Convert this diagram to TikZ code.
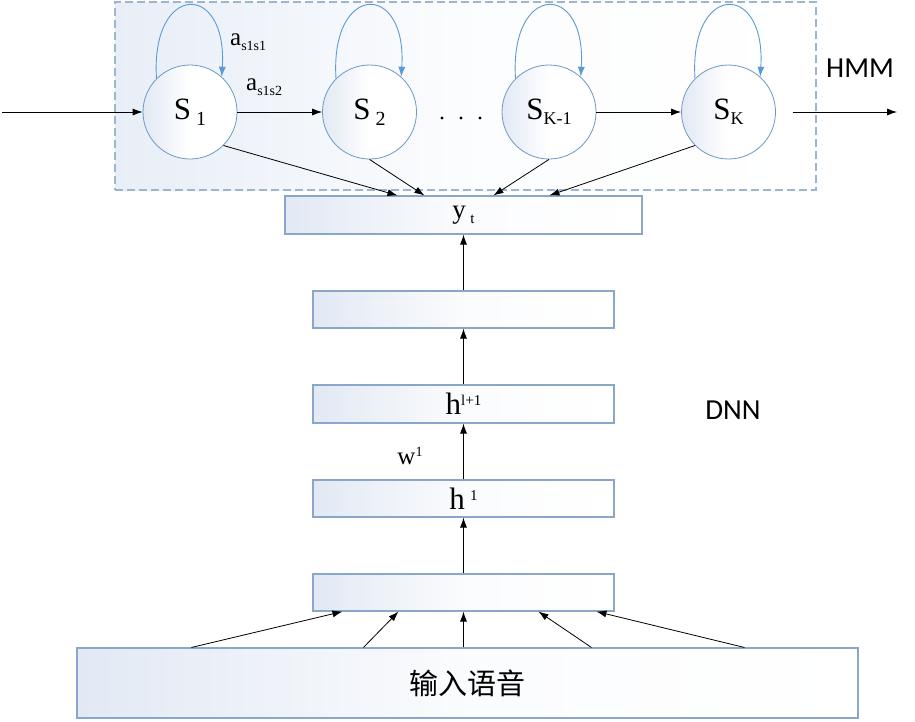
\documentclass[tikz,border=0pt]{standalone}
\usepackage{fontspec}
\setmainfont{Liberation Serif}
\newfontfamily\cjk{Noto Sans CJK SC}
\newfontfamily\calib{Carlito}
\usetikzlibrary{arrows.meta}
\definecolor{boxedge}{HTML}{8AA7CA}
\definecolor{boxfill}{HTML}{E2E9F4}
\definecolor{hmmfill}{HTML}{E8EEF7}
\definecolor{loopblue}{HTML}{5B9BD5}
\definecolor{dashedge}{HTML}{9DB5CF}
\definecolor{circedge}{HTML}{6E98C6}
\newcommand{\sz}[1]{\fontsize{#1}{#1}\selectfont}
\begin{document}
\begin{tikzpicture}[x=1pt,y=-1pt,
  layerbox/.style={draw=boxedge,line width=1.1pt,left color=boxfill,right color=white,middle color=white!85!boxfill,minimum width=301pt,minimum height=37pt,inner sep=0pt},
  statenode/.style={circle,draw=circedge,line width=0.8pt,left color=boxfill,right color=white,middle color=white,minimum size=94pt,inner sep=0pt},
  conn/.style={-{Latex[length=10pt,width=7pt]},line width=0.8pt,black},
  selfloop/.style={-{Latex[length=10pt,width=7pt]},line width=0.9pt,loopblue},
  lbl/.style={inner sep=0pt}]
\useasboundingbox (0,0) rectangle (915,721);
% HMM box
\node[draw=dashedge,line width=1.2pt,dash pattern=on 8pt off 4pt,left color=hmmfill,right color=white,middle color=white!85!hmmfill,minimum width=701pt,minimum height=188pt,inner sep=0pt] (hmm) at (465.5,96) {};
% states
\node[statenode] (s1) at (190,112) {\sz{31}S\,\raisebox{-6pt}{\sz{20}1}};
\node[statenode] (s2) at (369.5,112) {\sz{31}S\,\raisebox{-6pt}{\sz{20}2}};
\node[statenode] (sk1) at (549,112) {\sz{31}S\raisebox{-5pt}{\sz{18}K-1}};
\node[statenode] (sk) at (728.5,112) {\sz{31}S\raisebox{-5pt}{\sz{18}K}};
% dots
\fill (442,118) circle (1.7pt) (461,118) circle (1.7pt) (480,118) circle (1.7pt);
% self loops
\foreach \s in {s1,s2,sk1,sk}{
  \draw[selfloop] (\s.135) .. controls +(-6,-96) and +(6,-96) .. (\s.48);
}
% labels
\node[lbl,anchor=base west] (a11) at (230,45) {\sz{25}a\raisebox{-5pt}{\sz{14}s1s1}};
\node[lbl,anchor=base west] (a12) at (246,90) {\sz{25}a\raisebox{-5pt}{\sz{14}s1s2}};
\node[lbl] (hmmlbl) at (860,68) {\calib\sz{29}HMM};
\node[lbl] (dnnlbl) at (733,410) {\calib\sz{29}DNN};
% input / output
\coordinate (inL) at (2,112);
\coordinate (outS) at (793,112);
\coordinate (outE) at (897,112);
\draw[conn] (inL) -- (s1.west);
\draw[conn] (s1.east) -- (s2.west);
\draw[conn] (sk1.east) -- (sk.west);
\draw[conn] (outS) -- (outE);
% DNN layers
\node[layerbox,minimum width=357pt,minimum height=38pt] (yt) at (463.5,215) {\sz{27}y\,\raisebox{-5pt}{\sz{15}t}};
\node[layerbox] (l2) at (463.5,309.5) {};
\node[layerbox,minimum height=38pt] (hl1) at (463.5,404) {\sz{31}h\raisebox{9pt}{\sz{15}l+1}};
\node[layerbox] (h1) at (463.5,498.5) {\sz{31}h\,\raisebox{9pt}{\sz{15}1}};
\node[layerbox] (l5) at (463.5,592.5) {};
\node[layerbox,minimum width=781pt,minimum height=70pt] (inp) at (467.5,683) {\cjk\sz{29}输入语音};
\node[lbl,anchor=base] (w1) at (410,464) {\sz{25}w\raisebox{8pt}{\sz{14}1}};
% state to yt
\draw[conn] (s1.-45) -- ([xshift=113pt]yt.north west);
\draw[conn] (s2.south) -- ([xshift=140pt]yt.north west);
\draw[conn] (sk1.south) -- ([xshift=209pt]yt.north west);
\draw[conn] (sk.-135) -- ([xshift=265pt]yt.north west);
% vertical
\draw[conn] (l2.north) -- (yt.south);
\draw[conn] (hl1.north) -- (l2.south);
\draw[conn] (h1.north) -- (hl1.south);
\draw[conn] (l5.north) -- (h1.south);
% input to l5
\draw[conn] ([xshift=115pt]inp.north west) -- ([xshift=30pt]l5.south west);
\draw[conn] ([xshift=287pt]inp.north west) -- ([xshift=86pt]l5.south west);
\draw[conn] (inp.north -| l5.south) -- (l5.south);
\draw[conn] ([xshift=515pt]inp.north west) -- ([xshift=226pt]l5.south west);
\draw[conn] ([xshift=668pt]inp.north west) -- ([xshift=284pt]l5.south west);
\end{tikzpicture}
\end{document}
